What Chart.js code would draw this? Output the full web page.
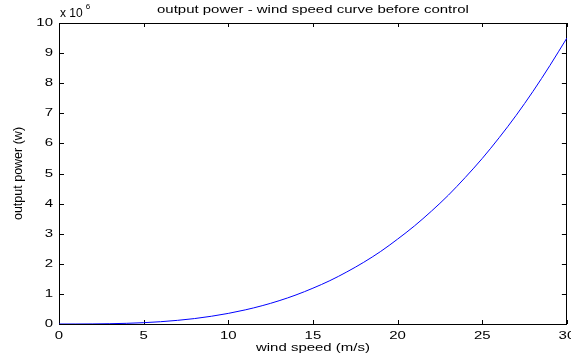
<!DOCTYPE html>
<html>
<head>
<meta charset="utf-8">
<script src="https://cdn.jsdelivr.net/npm/chart.js@4/dist/chart.umd.min.js"></script>
<style>
  html, body { margin: 0; padding: 0; background: #fff; overflow: hidden; }
  #wrap { width: 578px; height: 358px; }
</style>
</head>
<body>
<div id="wrap"><canvas id="c" width="578" height="358"></canvas></div>
<script>
// wind speed (m/s)
const windSpeed = [0,1,2,3,4,5,6,7,8,9,10,11,12,13,14,15,16,17,18,19,20,21,22,23,24,25,26,27,28,29,30];
// output power (W)
const outputPower = [0,400,3000,9500,22500,44000,76000,121000,180000,257000,352000,469000,608000,773000,966000,
  1190000,1440000,1730000,2050000,2410000,2820000,3260000,3750000,4280000,4870000,5500000,6190000,6930000,7730000,8590000,9500000];
const xTicks = [0,5,10,15,20,25,30];
const yTicks = [0,1,2,3,4,5,6,7,8,9,10];
const yScaleFactor = 1e6;
const titleText = 'output power - wind speed curve before control';
const xLabel = 'wind speed (m/s)';
const yLabel = 'output power (w)';

const FONT = '"Liberation Sans", Arial, sans-serif';
const TEXT_STRETCH = 1.36; // the reference text is horizontally widened

const canvas = document.getElementById('c');
const ctx0 = canvas.getContext('2d');
const origFill = ctx0.fillText.bind(ctx0);
let stretchOn = true;
ctx0.fillText = function (t, x, y, mw) {
  const m = this.getTransform();
  if (!stretchOn || Math.abs(m.b) > 1e-6) { // rotated or plain text: leave as is
    return mw === undefined ? origFill(t, x, y) : origFill(t, x, y, mw);
  }
  this.save();
  this.translate(x, y);
  this.scale(TEXT_STRETCH, 1);
  origFill(t, 0, 0);
  this.restore();
};

const boxPlugin = {
  id: 'box',
  beforeDatasetsDraw(chart) {
    const {ctx, chartArea: a, scales: {x, y}} = chart;
    ctx.save();
    ctx.strokeStyle = '#000';
    ctx.lineWidth = 1;
    ctx.strokeRect(Math.round(a.left) + 0.5, Math.round(a.top) + 0.5,
      Math.round(a.right - a.left) - 1, Math.round(a.bottom - a.top));
    ctx.beginPath();
    xTicks.forEach(v => {
      const px = Math.round(x.getPixelForValue(v)) + 0.5;
      ctx.moveTo(px, a.bottom); ctx.lineTo(px, a.bottom - 4);
      ctx.moveTo(px, a.top); ctx.lineTo(px, a.top + 4);
    });
    yTicks.forEach(v => {
      const py = Math.round(y.getPixelForValue(v * yScaleFactor)) + 0.5;
      ctx.moveTo(a.left, py); ctx.lineTo(a.left + 5, py);
      ctx.moveTo(a.right, py); ctx.lineTo(a.right - 5, py);
    });
    ctx.stroke();
    // title
    ctx.fillStyle = '#000';
    ctx.font = '11px ' + FONT;
    ctx.textAlign = 'center';
    ctx.textBaseline = 'alphabetic';
    ctx.fillText(titleText, (a.left + a.right) / 2, 13);
    // exponent (not widened)
    stretchOn = false;
    ctx.textAlign = 'left';
    ctx.font = '12px ' + FONT;
    ctx.fillText('x 10', a.left + 1, 17);
    const w = ctx.measureText('x 10').width;
    ctx.font = '8px ' + FONT;
    ctx.fillText('6', a.left + 1 + w + 3, 9);
    stretchOn = true;
    ctx.restore();
  }
};

new Chart(canvas, {
  type: 'line',
  data: {
    labels: windSpeed,
    datasets: [{
      data: windSpeed.map((v, i) => ({x: v, y: outputPower[i]})),
      borderColor: '#0000ff',
      borderWidth: 1,
      pointRadius: 0,
      cubicInterpolationMode: 'monotone',
      fill: false
    }]
  },
  options: {
    responsive: false,
    animation: false,
    devicePixelRatio: 1,
    layout: { padding: { top: 23, left: 0, right: 0, bottom: 0 } },
    plugins: { legend: { display: false }, tooltip: { enabled: false } },
    scales: {
      x: {
        type: 'linear', min: 0, max: 30,
        afterBuildTicks: s => { s.ticks = xTicks.map(v => ({value: v})); },
        afterFit: s => { s.height = 34; },
        grid: { display: false, drawTicks: false },
        border: { display: false },
        ticks: { color: '#000', font: { family: FONT, size: 11 }, padding: 5, maxRotation: 0 },
        title: { display: true, text: xLabel, color: '#000', font: { family: FONT, size: 11 }, padding: { top: 0, bottom: 3 } }
      },
      y: {
        type: 'linear', min: 0, max: 10 * yScaleFactor,
        afterBuildTicks: s => { s.ticks = yTicks.map(v => ({value: v * yScaleFactor})); },
        afterFit: s => { s.width = 59; },
        grid: { display: false, drawTicks: false },
        border: { display: false },
        ticks: { color: '#000', font: { family: FONT, size: 11 }, padding: 6,
          callback: v => String(Math.round(v / yScaleFactor)) },
        title: { display: true, text: yLabel, color: '#000', font: { family: FONT, size: 12.5 }, padding: { top: 11, bottom: 0 } }
      }
    }
  },
  plugins: [boxPlugin]
});
</script>
</body>
</html>
